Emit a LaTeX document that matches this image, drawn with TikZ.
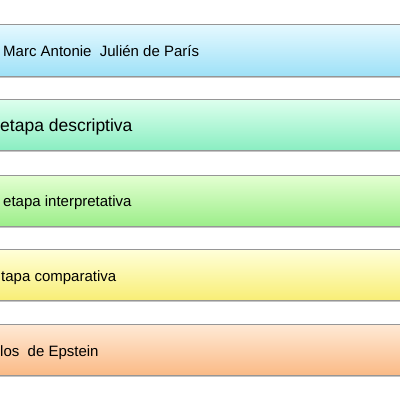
\documentclass[tikz,border=0pt]{standalone}
\usepackage{fontspec}
\setmainfont{Liberation Sans}
\usepackage{tikz}
\usetikzlibrary{shadows}
\definecolor{blau-oben}{RGB}{230,249,255}
\definecolor{blau-unten}{RGB}{158,225,247}
\definecolor{mint-oben}{RGB}{222,255,238}
\definecolor{mint-unten}{RGB}{138,238,194}
\definecolor{gruen-oben}{RGB}{228,255,210}
\definecolor{gruen-unten}{RGB}{156,238,138}
\definecolor{gelb-oben}{RGB}{255,255,218}
\definecolor{gelb-unten}{RGB}{248,238,118}
\definecolor{orange-oben}{RGB}{255,234,214}
\definecolor{orange-unten}{RGB}{250,186,134}
\definecolor{rand}{RGB}{150,150,150}

\tikzset{
	balken/.style={draw=rand, line width=0.8pt, drop shadow={shadow xshift=0pt, shadow yshift=-2pt, opacity=0.45}},
	etikett/.style={anchor=base west, inner sep=0pt, font=\fontsize{15}{18}\selectfont, text=black}
}

\begin{document}
\begin{tikzpicture}[x=1pt, y=1pt]

	\useasboundingbox[fill=white] (0,0) rectangle (400,-400);

	\path[balken, top color=blau-oben, bottom color=blau-unten] (-5,-24) rectangle (405,-76);
	\node[etikett] (julien) at (3,-56) {Marc Antonie\ \ Julién\ de\ París};

	\path[balken, top color=mint-oben, bottom color=mint-unten] (-5,-99) rectangle (405,-150);
	\node[etikett, font=\fontsize{17.5}{20}\selectfont] (descr) at (0,-131) {etapa descriptiva};

	\path[balken, top color=gruen-oben, bottom color=gruen-unten] (-5,-175) rectangle (405,-226);
	\node[etikett] (interp) at (3,-206) {etapa interpretativa};

	\path[balken, top color=gelb-oben, bottom color=gelb-unten] (-5,-249) rectangle (405,-300);
	\node[etikett] (compar) at (1,-281) {tapa comparativa};

	\path[balken, top color=orange-oben, bottom color=orange-unten] (-5,-324) rectangle (405,-375);
	\node[etikett] (epstein) at (0,-356) {los\ \ de\ Epstein};

\end{tikzpicture}
\end{document}
